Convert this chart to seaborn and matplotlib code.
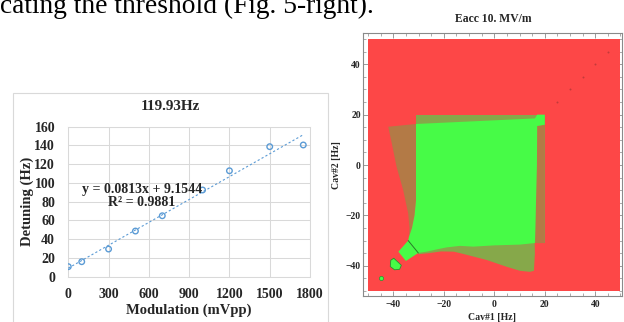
import matplotlib
matplotlib.use("Agg")
import matplotlib.pyplot as plt
from matplotlib.patches import Rectangle
from matplotlib.ticker import MultipleLocator
import pandas as pd
import seaborn as sns

# =============================================
# Left panel: detuning vs modulation (Excel-style scatter + linear trend)
modulation = [0, 100, 300, 500, 700, 1000, 1200, 1500, 1750]
detuning = [10.7, 16, 29.5, 48.7, 65, 92.5, 113, 138.7, 140.5]
fit_slope = 0.0813
fit_intercept = 9.1544
fit_r2 = 0.9881
fit_range = [0, 1750]
mod_ticks = [0, 300, 600, 900, 1200, 1500, 1800]
det_ticks = [0, 20, 40, 60, 80, 100, 120, 140, 160]

# =============================================
# Right panel: stability map of the two cavities (region plot)
cav_ticks = [-40, -20, 0, 20, 40]
background_x = [-50, 50, 50, -50]
background_y = [-50, -50, 50, 50]
square_x = [-31, 20, 20, -31]
square_y = [-31, -31, 20, 20]
left_band_x = [-42, -31, -31, -31.6, -32.6, -33.8, -33.6, -34.1, -36.1, -38.7, -40.6]
left_band_y = [15.2, 16.3, -14, -20, -25, -28.5, -25, -19.2, -9.9, -0.7, 8.6]
right_band_x = [16.2, 20, 20, 16.9]
right_band_y = [-31, -31, 16, 15.5]
bottom_band_x = [-30.5, 16, 16.1, 15.7, 14.1, 10.2, 4.9, -3.0, -12.3, -16, -21, -26, -30.1]
bottom_band_y = [-31, -31, -35, -42, -42.4, -42, -40.4, -37.7, -35.3, -34.4, -34.3, -35, -35.4]
core_x = [-31, 16.1, 17, 20, 20, 17, 16.9, 16.4, 16.1, 10, 0, -8.3, -13.6, -18.9, -22.8,
          -26.8, -30.1, -35, -38, -34.1, -33.8, -32.6, -31.6, -31]
core_y = [16.3, 18.5, 20, 20, 16, 15.5, 0, -20, -31, -31.6, -31.9, -32.4, -32.1, -32.7, -33.5,
          -34.4, -34.9, -38.1, -34.4, -30, -28.5, -25, -20, -14]
tip_edge_x = [-34.1, -30.1]
tip_edge_y = [-30, -34.9]
island_x = [-41.0, -39.8, -36.8, -37.5, -39.5, -41.2]
island_y = [-37.8, -37.0, -39.8, -41.4, -41.6, -40.3]
speck_x = [-44.8]
speck_y = [-44.7]
diag_x = [25, 30, 35, 40, 45]
diag_y = [25, 30, 35, 40, 45]

red = '#fd4747'
green = '#47fb47'
olive = '#86a84a'
brown = '#b37a46'
blue = '#5b9bd5'
grid_grey = '#d9d9d9'

sns.set_style("white")
plt.rcParams['font.family'] = ['Liberation Serif', 'DejaVu Serif']
plt.rcParams['axes.unicode_minus'] = True

fig = plt.figure(figsize=(6.24, 3.22), dpi=100)

# running text of the page above the figure (cut by the page crop, as in the source)
fig.text(0.0, (322 - 13) / 322, "cating the threshold (Fig. 5-right).", fontsize=19.8,
         ha='left', va='baseline', color='black')

# ---------------- left panel
fig.patches.append(Rectangle((13 / 624, -0.05), (328 - 13) / 624, (322 - 93) / 322 + 0.05,
                             transform=fig.transFigure, fill=False, edgecolor=grid_grey, lw=0.8))
ax1 = fig.add_axes([68.3 / 624, (322 - 276.7) / 322, (310 - 68.3) / 624, (276.7 - 126.7) / 322])

df = pd.DataFrame({'modulation': modulation, 'detuning': detuning})
trend = pd.DataFrame({'modulation': fit_range,
                      'detuning': [fit_intercept + fit_slope * v for v in fit_range]})
sns.lineplot(data=trend, x='modulation', y='detuning', ax=ax1, color=blue, lw=0.8,
             linestyle=(0, (2, 2)), zorder=3)
sns.scatterplot(data=df, x='modulation', y='detuning', ax=ax1, marker='o', s=16,
                facecolor='none', edgecolor=blue, linewidth=1.0, zorder=4)

ax1.set_xlim(0, 1800)
ax1.set_ylim(0, 160)
ax1.set_xticks(mod_ticks)
ax1.set_yticks(det_ticks)
ax1.grid(True, color=grid_grey, lw=0.75)
for s in ax1.spines.values():
    s.set_color(grid_grey)
    s.set_linewidth(0.75)
ax1.tick_params(length=0, labelsize=10)
ax1.tick_params(axis='y', pad=9.5)
ax1.tick_params(axis='x', pad=8)
for lab in ax1.get_xticklabels() + ax1.get_yticklabels():
    lab.set_fontweight('bold')
ax1.set_xlabel('Modulation (mVpp)', fontsize=10.5, fontweight='bold', va='center')
ax1.xaxis.set_label_coords(0.5, -0.2267)
ax1.set_ylabel('Detuning (Hz)', fontsize=10.5, fontweight='bold', va='center')
ax1.yaxis.set_label_coords(-0.171, 0.5)
ax1.text(546, 85.8, f"y = {fit_slope}x + {fit_intercept}\nR² = {fit_r2}", ha='center',
         va='center', fontsize=10, fontweight='bold', linespacing=1.0, zorder=5)
fig.text(170.7 / 624, (322 - 107) / 322, '119.93Hz', ha='center', va='center',
         fontsize=11, fontweight='bold')

# ---------------- right panel
ax2 = fig.add_axes([363 / 624, (322 - 296) / 322, (622 - 363) / 624, (296 - 33.3) / 322])
ax2.fill(background_x, background_y, color=red, lw=0)
ax2.fill(square_x, square_y, color=olive, lw=0)
ax2.fill(left_band_x, left_band_y, color=brown, lw=0)
ax2.fill(right_band_x, right_band_y, color=brown, lw=0)
ax2.fill(bottom_band_x, bottom_band_y, color=olive, lw=0)
ax2.fill(core_x, core_y, color=green, lw=0)
ax2.fill(island_x, island_y, facecolor=green, edgecolor='#2f8f2f', lw=0.6)
sns.lineplot(x=tip_edge_x, y=tip_edge_y, ax=ax2, color='#2a7a2a', lw=0.7)
sns.scatterplot(x=speck_x, y=speck_y, ax=ax2, s=9, color=green, edgecolor='#2f8f2f',
                linewidth=0.5)
sns.scatterplot(x=diag_x, y=diag_y, ax=ax2, s=2, color='#c23a3a', linewidth=0)

ax2.set_xlim(-52.0, 50.6)
ax2.set_ylim(-52.0, 52.3)
ax2.set_xticks(cav_ticks)
ax2.set_yticks(cav_ticks)
ax2.xaxis.set_minor_locator(MultipleLocator(5))
ax2.yaxis.set_minor_locator(MultipleLocator(5))
ax2.tick_params(which='both', direction='in', top=True, right=True, color='#8a8a8a',
                labelsize=7, bottom=True, left=True)
ax2.tick_params(which='major', length=3.5, width=0.6)
ax2.tick_params(which='minor', length=2, width=0.5)
ax2.tick_params(axis='x', pad=3)
ax2.tick_params(axis='y', pad=1.5)
for lab in ax2.get_xticklabels() + ax2.get_yticklabels():
    lab.set_fontweight('bold')
for s in ax2.spines.values():
    s.set_color('#8a8a8a')
    s.set_linewidth(0.8)
ax2.set_xlabel('Cav#1 [Hz]', fontsize=7, fontweight='bold', va='center')
ax2.xaxis.set_label_coords(0.5, -0.08)
ax2.set_ylabel('Cav#2 [Hz]', fontsize=7, fontweight='bold', va='center')
ax2.yaxis.set_label_coords(-0.1015, 0.5)
fig.text(493.3 / 624, (322 - 19) / 322, 'Eacc 10. MV/m', ha='center', va='center',
         fontsize=8.4, fontweight='bold')

fig.savefig('out.png', dpi=100)
